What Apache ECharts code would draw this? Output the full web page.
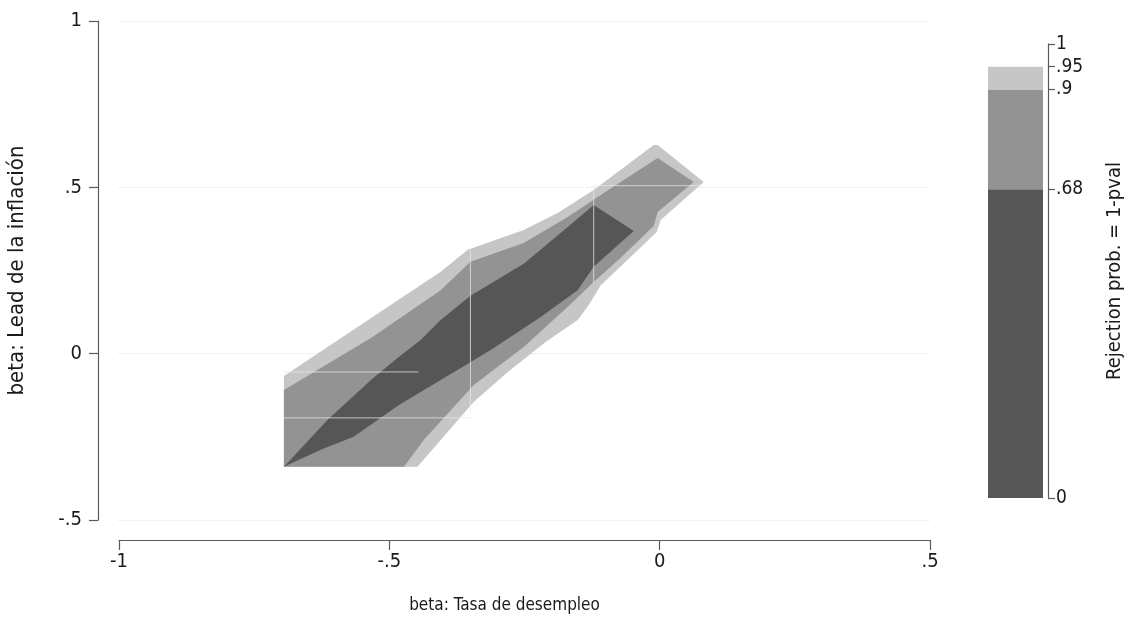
<!DOCTYPE html>
<html>
<head>
<meta charset="utf-8">
<script src="https://cdn.jsdelivr.net/npm/echarts@6/dist/echarts.min.js"></script>
<style>
html,body{margin:0;padding:0;background:#fff;}
#c{width:1134px;height:619px;}
</style>
</head>
<body>
<div id="c"></div>
<script>
// Axis ticks
const xTicks = [-1, -0.5, 0, 0.5];
const xTickLabels = ['-1', '-.5', '0', '.5'];
const yTicks = [-0.5, 0, 0.5, 1];
const yTickLabels = ['-.5', '0', '.5', '1'];

// Contour levels (rejection probability = 1 - pval)
const levelBreaks = [0, 0.68, 0.9, 0.95];
const levelTicks = [0, 0.68, 0.9, 0.95, 1];
const levelTickLabels = ['0', '.68', '.9', '.95', '1'];
const levelColors = ['#565656', '#939393', '#c6c6c6'];

// Region with rejection prob < .95 (outer contour)
const region95 = [
  [-0.695,-0.340],[-0.695,-0.067],[-0.405,0.246],[-0.355,0.312],[-0.2515,0.372],
  [-0.1886,0.423],[-0.122,0.492],[-0.011,0.627],[-0.0037,0.627],[0.0814,0.516],
  [0.0018,0.402],[-0.0055,0.366],[-0.063,0.276],[-0.109,0.206],[-0.1313,0.146],
  [-0.1517,0.101],[-0.211,0.035],[-0.281,-0.055],[-0.344,-0.145],[-0.448,-0.340]
];
// Region with rejection prob < .9
const region90 = [
  [-0.695,-0.340],[-0.695,-0.109],[-0.534,0.047],[-0.405,0.191],[-0.350,0.276],
  [-0.2515,0.333],[-0.170,0.411],[-0.1147,0.471],[-0.0037,0.588],[0.0629,0.516],
  [-0.0037,0.426],[-0.011,0.384],[-0.072,0.288],[-0.122,0.2155],[-0.170,0.141],
  [-0.2515,0.020],[-0.344,-0.094],[-0.436,-0.259],[-0.473,-0.340]
];
// Region with rejection prob < .68
const region68 = [
  [-0.695,-0.340],[-0.614,-0.199],[-0.534,-0.079],[-0.485,-0.013],[-0.442,0.041],
  [-0.405,0.101],[-0.350,0.174],[-0.2515,0.270],[-0.159,0.396],[-0.122,0.447],
  [-0.048,0.369],[-0.122,0.261],[-0.1517,0.191],[-0.220,0.110],[-0.3125,0.011],
  [-0.374,-0.049],[-0.436,-0.109],[-0.485,-0.157],[-0.566,-0.250],[-0.627,-0.289]
];
// Thin light seams visible between the filled contour cells
const seams = [
  [[-0.122,0.505],[0.078,0.505]],
  [[-0.122,0.505],[-0.122,0.213]],
  [[-0.350,0.310],[-0.350,-0.180]],
  [[-0.695,-0.055],[-0.446,-0.055]],
  [[-0.695,-0.193],[-0.350,-0.193]]
];

const FONT = '"DejaVu Sans Condensed", "Liberation Sans", Arial, sans-serif';
const TXT = '#1a1a1a';
const AX = '#5a5a5a';

function lab(vals, labels){ return v => { for (let i=0;i<vals.length;i++){ if (Math.abs(v-vals[i])<1e-9) return labels[i]; } return ''; }; }

function polySeries(name, pts, color){
  return {
    type:'custom', name:name, xAxisIndex:0, yAxisIndex:0, silent:true,
    data: pts,
    renderItem: function(params, api){
      if (params.dataIndex !== 0) return null;
      return { type:'polygon', shape:{ points: pts.map(p => api.coord(p)) }, style:{ fill: color } };
    },
    z: 2
  };
}

const seamSeries = {
  type:'custom', name:'seams', xAxisIndex:0, yAxisIndex:0, silent:true,
  data: seams.map((s,i)=>i),
  renderItem: function(params, api){
    const s = seams[params.dataIndex];
    const a = api.coord(s[0]), b = api.coord(s[1]);
    return { type:'line', shape:{x1:a[0],y1:a[1],x2:b[0],y2:b[1]}, style:{stroke:'#e8e8e8', lineWidth:1, opacity:0.75} };
  },
  z: 3
};

const cbSeries = levelBreaks.map((b,i) => ({
  type:'bar', stack:'cb', xAxisIndex:1, yAxisIndex:1, barWidth:'100%', silent:true,
  data:[ (i < levelBreaks.length-1 ? levelBreaks[i+1] : levelTicks[3]) - b ],
  itemStyle:{ color: levelColors[i] }
}));

const chart = echarts.init(document.getElementById('c'), null, {renderer:'canvas'});
chart.setOption({
  animation:false,
  backgroundColor:'#fff',
  grid:[
    {left:119, top:21, width:811, height:499, outerBoundsMode:'none', containLabel:false},
    {left:988, top:44, width:55, height:454, outerBoundsMode:'none', containLabel:false}
  ],
  xAxis:[
    {type:'value', gridIndex:0, min:-1, max:0.5, interval:0.5, offset:20,
     axisLine:{show:true, onZero:false, lineStyle:{color:AX, width:1.2}},
     axisTick:{show:true, length:10, lineStyle:{color:AX, width:1.2}},
     axisLabel:{formatter:lab(xTicks,xTickLabels), color:TXT, fontSize:20, fontFamily:FONT, margin:12},
     splitLine:{show:false},
     name:'beta: Tasa de desempleo', nameLocation:'middle', nameGap:57,
     nameTextStyle:{color:TXT, fontSize:17, fontFamily:FONT, padding:[0,40,0,0]}
    },
    {type:'category', gridIndex:1, data:['cb'], show:false}
  ],
  yAxis:[
    {type:'value', gridIndex:0, min:-0.5, max:1, interval:0.5, offset:21,
     axisLine:{show:true, onZero:false, lineStyle:{color:AX, width:1.2}},
     axisTick:{show:true, length:9, lineStyle:{color:AX, width:1.2}},
     axisLabel:{formatter:lab(yTicks,yTickLabels), color:TXT, fontSize:20, fontFamily:FONT, margin:16},
     splitLine:{show:true, lineStyle:{color:'#e4e4e4', type:'dotted', width:1}},
     name:'beta: Lead de la inflación', nameLocation:'middle', nameGap:70, nameRotate:90,
     nameTextStyle:{color:TXT, fontSize:22, fontFamily:FONT}
    },
    {type:'value', gridIndex:1, min:0, max:1, position:'right', offset:5,
     axisLine:{show:true, lineStyle:{color:AX, width:1.2}},
     axisTick:{show:true, length:7, customValues:levelTicks, lineStyle:{color:AX, width:1.2}},
     axisLabel:{show:true, customValues:levelTicks, formatter:lab(levelTicks,levelTickLabels), color:TXT, fontSize:19, fontFamily:FONT, margin:8},
     splitLine:{show:false},
     name:'Rejection prob. = 1-pval', nameLocation:'middle', nameGap:57, nameRotate:90,
     nameTextStyle:{color:TXT, fontSize:20, fontFamily:FONT}
    }
  ],
  series:[
    polySeries('p95', region95, levelColors[2]),
    polySeries('p90', region90, levelColors[1]),
    polySeries('p68', region68, levelColors[0]),
    seamSeries
  ].concat(cbSeries)
});
</script>
</body>
</html>
